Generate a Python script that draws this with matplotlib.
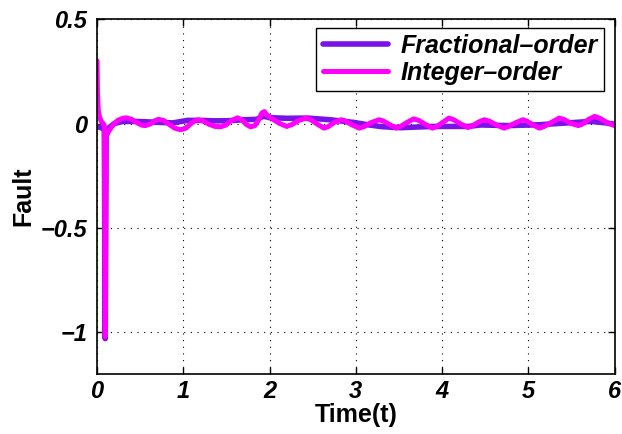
import matplotlib
matplotlib.use("Agg")
import matplotlib.pyplot as plt

plt.rcParams['font.family'] = ['Liberation Sans', 'DejaVu Sans']

# fractional-order fault estimate
t_frac = [0.00, 0.05, 0.085, 0.095, 0.105, 0.14, 0.20, 0.30, 0.45, 0.58, 0.75,
          0.88, 1.05, 1.20, 1.35, 1.50, 1.70, 1.85, 1.93, 2.00, 2.20, 2.44,
          2.70, 2.98, 3.14, 3.30, 3.52, 3.70, 3.90, 4.10, 4.30, 4.45, 4.77,
          5.12, 5.42, 5.73, 5.90, 6.00]
f_frac = [-0.015, -0.02, -0.03, -1.03, -0.06, -0.02, 0.0, 0.01, 0.01, 0.008, 0.005,
          0.003, 0.015, 0.015, 0.013, 0.013, 0.018, 0.02, 0.035, 0.028, 0.025, 0.026,
          0.018, 0.005, -0.006, -0.015, -0.02, -0.017, -0.014, -0.014, -0.014, -0.007, -0.01,
          -0.006, 0.002, 0.01, 0.003, -0.003]

# integer-order fault estimate
t_int = [0.00, 0.005, 0.015, 0.03, 0.05, 0.07, 0.085, 0.095, 0.105, 0.13,
         0.18, 0.24, 0.30, 0.34, 0.40, 0.46, 0.52, 0.56, 0.62, 0.67,
         0.71, 0.77, 0.84, 0.90, 0.97, 1.03, 1.09, 1.13, 1.17, 1.23,
         1.30, 1.37, 1.43, 1.49, 1.55, 1.63, 1.68, 1.73, 1.78, 1.83,
         1.87, 1.91, 1.94, 1.97, 2.01, 2.06, 2.12, 2.20, 2.26, 2.33,
         2.42, 2.48, 2.55, 2.63, 2.68, 2.75, 2.83, 2.88, 2.95, 3.04,
         3.10, 3.17, 3.27, 3.32, 3.39, 3.47, 3.52, 3.59, 3.67, 3.73,
         3.81, 3.89, 3.94, 4.01, 4.08, 4.14, 4.22, 4.30, 4.35, 4.42,
         4.49, 4.55, 4.63, 4.72, 4.77, 4.86, 4.94, 4.99, 5.06, 5.13,
         5.19, 5.28, 5.36, 5.42, 5.50, 5.58, 5.63, 5.70, 5.77, 5.83,
         5.92, 6.00]
f_int = [0.30, 0.15, 0.06, 0.03, 0.01, 0.0, -0.01, -1.02, -0.06, -0.04,
         -0.01, 0.015, 0.025, 0.027, 0.02, 0.005, -0.008, -0.01, -0.002, 0.013,
         0.02, 0.015, -0.005, -0.022, -0.03, -0.022, 0.0, 0.012, 0.018, 0.012,
         -0.004, -0.014, -0.016, -0.008, 0.012, 0.027, 0.018, -0.004, -0.016, -0.01,
         0.015, 0.05, 0.057, 0.04, 0.029, 0.015, 0.0, -0.014, -0.005, 0.013,
         0.026, 0.018, -0.002, -0.022, -0.015, 0.005, 0.018, 0.012, -0.005, -0.022,
         -0.014, 0.003, 0.018, 0.012, -0.005, -0.022, -0.014, 0.004, 0.022, 0.015,
         -0.005, -0.022, -0.014, 0.006, 0.026, 0.017, -0.003, -0.019, -0.012, 0.006,
         0.018, 0.011, -0.007, -0.022, -0.014, 0.005, 0.018, 0.01, -0.008, -0.022,
         -0.013, 0.008, 0.026, 0.018, 0.0, -0.01, -0.002, 0.02, 0.034, 0.025,
         0.003, -0.01]

xticks = [0, 1, 2, 3, 4, 5, 6]
yticks = [-1, -0.5, 0, 0.5]
yticklabels = ['\u22121', '\u22120.5', '0', '0.5']

fig = plt.figure(figsize=(6.22, 4.34), dpi=100)
ax = fig.add_axes([0.156, 0.138, 0.832, 0.818])

ax.plot(t_frac, f_frac, color='#7a14e6', lw=4.0, solid_joinstyle='round',
        solid_capstyle='round', label='Fractional\u2013order')
ax.plot(t_int, f_int, color='#ff00ff', lw=3.6, solid_joinstyle='round',
        solid_capstyle='round', label='Integer\u2013order')

ax.set_xlim(0, 6)
ax.set_ylim(-1.2, 0.5)
ax.set_xticks(xticks)
ax.set_yticks(yticks)
ax.set_yticklabels(yticklabels)
for lab in ax.get_xticklabels() + ax.get_yticklabels():
    lab.set_fontsize(17)
    lab.set_fontweight('bold')
    lab.set_fontstyle('italic')

ax.tick_params(direction='in', length=5, width=1, top=True, right=True)
ax.tick_params(axis='x', pad=4)
ax.tick_params(axis='y', pad=7)
ax.grid(True, color='black', linestyle=(0, (1, 5)), linewidth=0.8)
for sp in ax.spines.values():
    sp.set_linewidth(1.2)

ax.set_xlabel('Time(t)', fontsize=18, fontweight='bold', labelpad=0)
ax.set_ylabel('Fault', fontsize=18, fontweight='bold', labelpad=4)

leg = ax.legend(loc='upper right', fancybox=False, framealpha=1,
                edgecolor='black', handlelength=2.6, borderpad=0.25,
                labelspacing=0.1, handletextpad=0.5, borderaxespad=0,
                prop={'size': 18, 'weight': 'bold', 'style': 'italic'},
                bbox_to_anchor=(0.979, 0.975))
leg.get_frame().set_linewidth(1.0)

fig.savefig('out.png', dpi=100)
